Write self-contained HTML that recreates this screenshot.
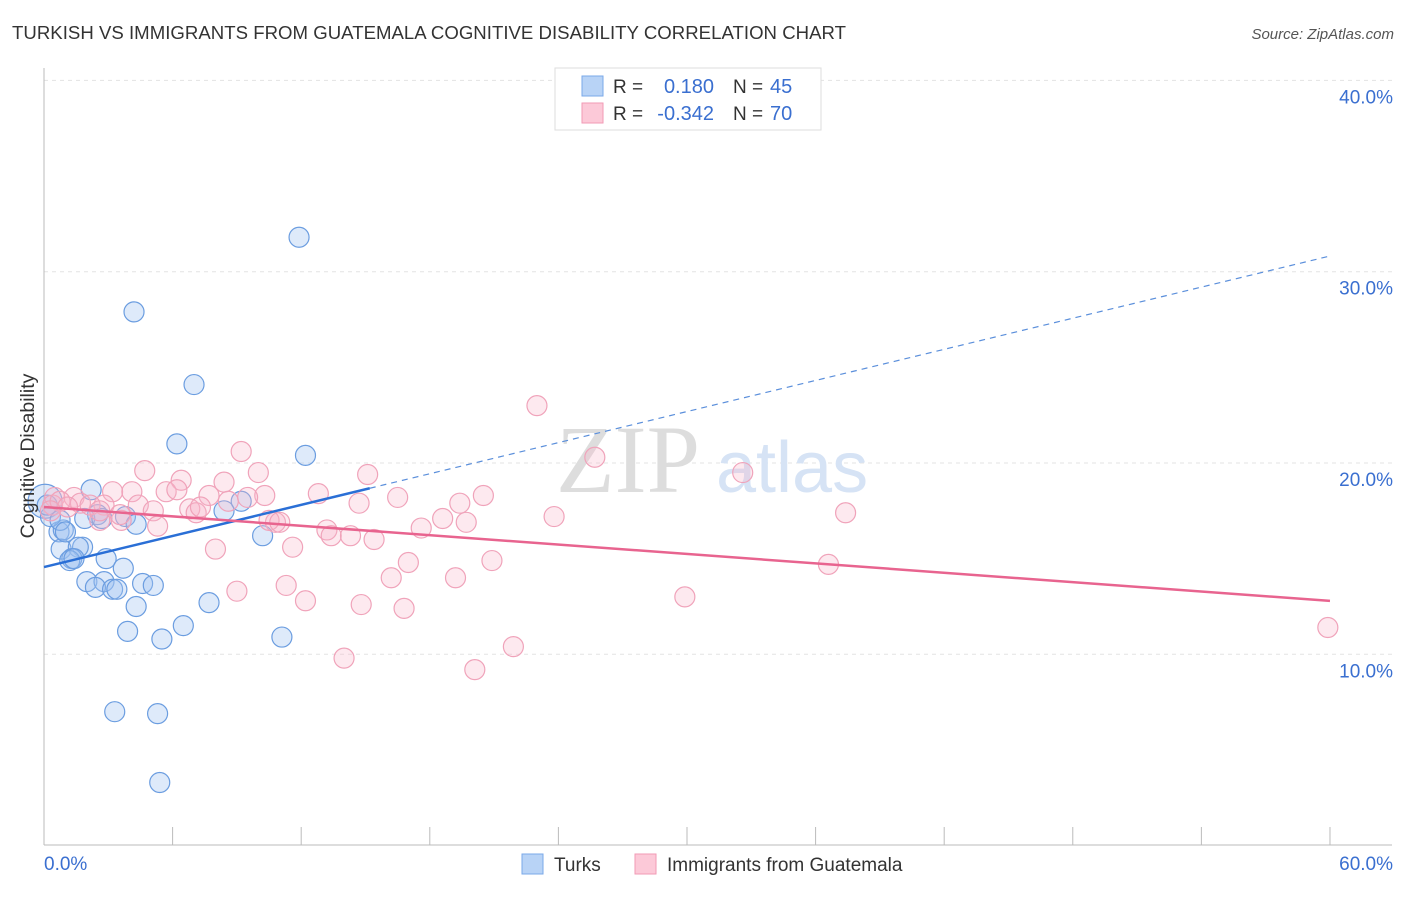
<!DOCTYPE html>
<html><head><meta charset="utf-8"><style>
body{margin:0;background:#fff;font-family:"Liberation Sans",sans-serif;}
</style></head><body>
<svg width="1406" height="892" xmlns="http://www.w3.org/2000/svg" style="font-family:'Liberation Sans',sans-serif">
<text x="12" y="39" font-size="18.6" fill="#333" textLength="834">TURKISH VS IMMIGRANTS FROM GUATEMALA COGNITIVE DISABILITY CORRELATION CHART</text>
<text x="1394" y="39" font-size="15" fill="#555" font-style="italic" text-anchor="end">Source: ZipAtlas.com</text>
<g id="grid"></g>
<text x="556" y="492" font-size="96" fill="#ddd" font-family="Liberation Serif">ZIP</text>
<text x="716" y="492" font-size="72" fill="#d6e3f5">atlas</text>
<g id="marks"></g>
<text transform="translate(34,456) rotate(-90)" font-size="19.5" fill="#333" text-anchor="middle">Cognitive Disability</text>
<g>
<rect x="555" y="68" width="266" height="62" fill="#fff" stroke="#ddd"/>
<rect x="582" y="76" width="21" height="20" fill="#b8d3f6" stroke="#7aa8e8"/>
<rect x="582" y="103" width="21" height="20" fill="#fcc9d8" stroke="#f29ab5"/>
<text x="613" y="93" font-size="19" fill="#333">R = </text><text x="714" y="93" font-size="20" fill="#3a6fd0" text-anchor="end">0.180</text>
<text x="733" y="93" font-size="19" fill="#333">N = </text><text x="770" y="93" font-size="20" fill="#3a6fd0">45</text>
<text x="613" y="120" font-size="19" fill="#333">R = </text><text x="714" y="120" font-size="20" fill="#3a6fd0" text-anchor="end">-0.342</text>
<text x="733" y="120" font-size="19" fill="#333">N = </text><text x="770" y="120" font-size="20" fill="#3a6fd0">70</text>
</g>
<g>
<rect x="522" y="854" width="21" height="20" fill="#b8d3f6" stroke="#7aa8e8"/>
<text x="554" y="871" font-size="19" fill="#333">Turks</text>
<rect x="635" y="854" width="21" height="20" fill="#fcc9d8" stroke="#f29ab5"/>
<text x="667" y="871" font-size="19" fill="#333">Immigrants from Guatemala</text>
</g>
</svg>
<script>
const yTicks=[10,20,30,40];
const yTickLabels=["10.0%","20.0%","30.0%","40.0%"];
const xTicks=[0,6,12,18,24,30,36,42,48,54,60];
const turksX=[11.9,4.2,7.0,6.2,12.2,2.2,9.2,8.4,3.8,2.5,1.9,2.7,4.3,0.7,0.9,10.2,0.8,1.8,1.6,1.3,1.2,1.4,2.9,3.7,2.0,2.8,2.4,3.2,3.4,4.6,5.1,4.3,7.7,6.5,3.9,5.5,11.1,3.3,5.3,5.4,0.05,0.3,0.15,0.75,1.0];
const turksY=[31.8,27.9,24.1,21.0,20.4,18.6,18.0,17.5,17.2,17.3,17.1,17.1,16.8,16.4,16.5,16.2,15.5,15.6,15.6,15.0,14.9,15.0,15.0,14.5,13.8,13.8,13.5,13.4,13.4,13.7,13.6,12.5,12.7,11.5,11.2,10.8,10.9,7.0,6.9,3.3,18.0,17.2,17.8,17.0,16.4];
const guatX=[23.0,25.7,32.6,9.2,4.7,10.0,15.1,6.4,8.4,5.7,10.3,12.8,16.5,20.5,7.7,3.2,4.1,6.2,9.5,1.4,1.7,2.8,8.6,4.4,14.7,19.4,37.4,5.1,6.8,7.1,23.8,10.8,18.6,19.7,13.2,13.4,14.3,15.4,5.3,3.6,2.6,17.6,8.0,11.6,17.0,20.9,36.6,16.2,19.2,11.3,9.0,12.2,14.8,16.8,29.9,21.9,14.0,20.1,59.9,0.5,0.4,0.75,2.15,1.1,0.3,10.5,11.0,3.55,7.3,2.6];
const guatY=[23.0,20.3,19.5,20.6,19.6,19.5,19.4,19.1,19.0,18.5,18.3,18.4,18.2,18.3,18.3,18.5,18.5,18.6,18.2,18.2,17.9,17.8,18.0,17.8,17.9,17.9,17.4,17.5,17.6,17.4,17.2,16.9,17.1,16.9,16.5,16.2,16.2,16.0,16.7,17.0,17.0,16.6,15.5,15.6,14.8,14.9,14.7,14.0,14.0,13.6,13.3,12.8,12.6,12.4,13.0,10.4,9.8,9.2,11.4,18.2,17.8,18.0,17.8,17.7,17.5,17.0,16.9,17.3,17.7,17.5];
const blueLine=[14.56,30.82];
const pinkLine=[17.7,12.79];
const X=v=>44+v*21.433, Y=v=>845.6-v*19.13;
const NS="http://www.w3.org/2000/svg";
function mk(t,a,p){const e=document.createElementNS(NS,t);for(const k in a)e.setAttribute(k,a[k]);p.appendChild(e);return e;}
const grid=document.getElementById('grid'), marks=document.getElementById('marks');
yTicks.forEach((v,i)=>{
 const l=mk('line',{x1:44,x2:1392,y1:Y(v),y2:Y(v),stroke:'#e3e3e3','stroke-dasharray':'4,4'},grid);
 
 
 const t=mk('text',{x:1393,y:Y(v)+23,'font-size':19,fill:'#3a6fd0','text-anchor':'end'},grid);
 t.textContent=yTickLabels[i];
 
 
});
xTicks.forEach(v=>{
 const l=mk('line',{x1:X(v),x2:X(v),y1:827,y2:845,stroke:'#bbb'},grid);
 
 
});
let a=mk('line',{x1:44,x2:44,y1:68,y2:845,stroke:'#bbb'},grid);


a=mk('line',{x1:44,x2:1392,y1:845,y2:845,stroke:'#bbb'},grid);


[["0.0%",44,'start'],["60.0%",1393,'end']].forEach(d=>{
 const t=mk('text',{x:d[1],y:870,'font-size':19,fill:'#3a6fd0','text-anchor':d[2]},grid);
 t.textContent=d[0];
 
 
});
turksX.forEach((x,i)=>{
 const c=mk('circle',{cx:X(x),cy:Y(turksY[i]),r:i==40?17:10,fill:'rgba(160,196,240,0.35)',stroke:'#6b9de0','stroke-width':1.2},marks);
 
 
});
guatX.forEach((x,i)=>{
 const c=mk('circle',{cx:X(x),cy:Y(guatY[i]),r:10,fill:'rgba(248,182,202,0.3)',stroke:'#f0a3ba','stroke-width':1.2},marks);
 
 
});
const by=x=>blueLine[0]+(blueLine[1]-blueLine[0])*x/60;
let t=mk('line',{x1:X(0),y1:Y(by(0)),x2:X(15.2),y2:Y(by(15.2)),stroke:'#2a6fd6','stroke-width':2.5},marks);


t=mk('line',{x1:X(15.2),y1:Y(by(15.2)),x2:X(60),y2:Y(by(60)),stroke:'#5b8fdb','stroke-width':1.2,'stroke-dasharray':'6,5'},marks);


t=mk('line',{x1:X(0),y1:Y(pinkLine[0]),x2:X(60),y2:Y(pinkLine[1]),stroke:'#e8648f','stroke-width':2.5},marks);


</script>
</body></html>
